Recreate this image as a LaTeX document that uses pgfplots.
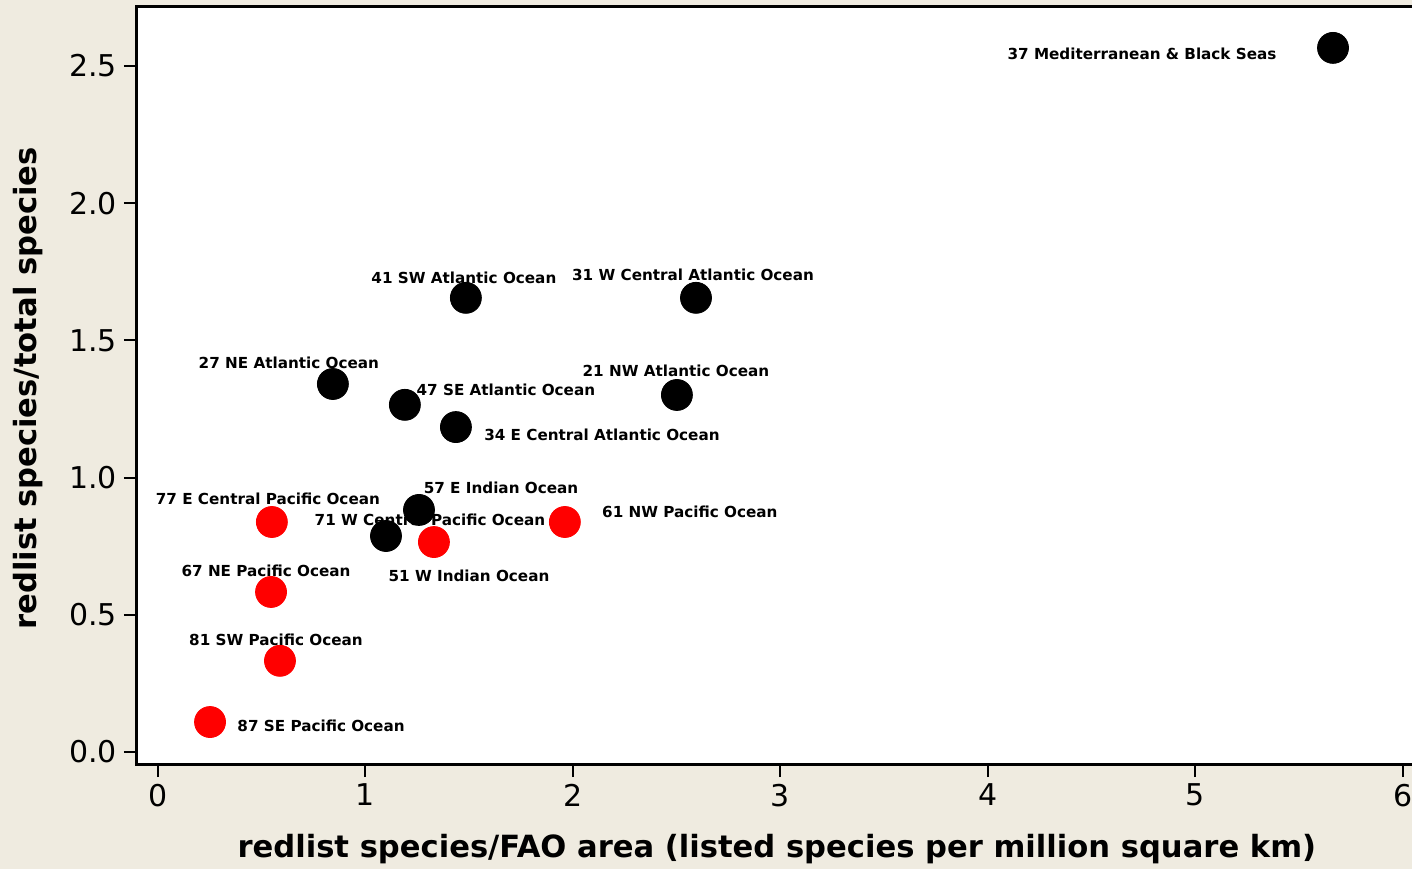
\documentclass[border=0pt]{standalone}
\usepackage{pgfplots}
\pgfplotsset{compat=1.18}
\usepackage{pgfplotstable}
\usepackage{fontspec}
\setmainfont{DejaVu Sans}
\definecolor{bg}{RGB}{239,235,224}
\definecolor{ptred}{RGB}{255,0,0}

% FAO areas: x = redlist species per million km^2, y = redlist/total species (%)
% dx, dy = label offset from the point, in pt
\pgfplotstableread{
x y dx dy label
5.663 2.566 -95.5 -3 {37 Mediterranean \& Black Seas}
1.484 1.655 -1 10 {41 SW Atlantic Ocean}
2.593 1.655 -1.5 11.5 {31 W Central Atlantic Ocean}
0.843 1.341 -22 10.5 {27 NE Atlantic Ocean}
1.190 1.265 50.5 7.5 {47 SE Atlantic Ocean}
2.501 1.301 -0.5 12 {21 NW Atlantic Ocean}
1.436 1.184 73 -4 {34 E Central Atlantic Ocean}
1.258 0.882 41 11 {57 E Indian Ocean}
1.099 0.787 41.5 -20 {51 W Indian Ocean}
}\atlind

\pgfplotstableread{
x y dx dy label
1.330 0.765 -2 11 {71 W Central Pacific Ocean}
1.961 0.838 62.5 5 {61 NW Pacific Ocean}
0.549 0.838 -2 11.5 {77 E Central Pacific Ocean}
0.545 0.583 -2.5 10.5 {67 NE Pacific Ocean}
0.588 0.332 -2 10.5 {81 SW Pacific Ocean}
0.251 0.109 55.5 -2 {87 SE Pacific Ocean}
}\pacific

\pgfplotsset{
  ptlabels/.style={
    draw=none, mark=none,
    point meta=explicit symbolic,
    visualization depends on={\thisrow{dx} \as \dx},
    visualization depends on={\thisrow{dy} \as \dy},
    nodes near coords,
    every node near coord/.style={anchor=center, xshift=\dx pt, yshift=\dy pt,
      font=\bfseries\fontsize{7.6}{9}\selectfont, text=black, inner sep=0pt},
  },
}

\begin{document}
\begin{tikzpicture}
\path[use as bounding box, fill=bg] (-68.5pt,-52.5pt) rectangle (637.5pt,382pt);
\begin{axis}[
  at={(0,0)}, anchor=south west,
  scale only axis, width=645pt, height=378.5pt,
  xmin=-0.101, xmax=6.116, ymin=-0.044, ymax=2.715,
  axis background/.style={fill=white},
  axis line style={line width=1.5pt},
  clip=false,
  xtick={0,1,2,3,4,5,6},
  ytick={0,0.5,1,1.5,2,2.5},
  tick align=outside, tick pos=left,
  major tick length=6.5pt,
  every tick/.style={black, line width=1pt},
  tick label style={font=\fontsize{15}{18}\selectfont},
  xlabel={redlist species/FAO area (listed species per million square km)},
  ylabel={redlist species/total species},
  label style={font=\bfseries\fontsize{15.3}{18}\selectfont},
  xlabel style={at={(axis description cs:0.496,-0.1123)}, anchor=center},
  ylabel style={at={(axis description cs:-0.0845,0.496)}, anchor=center},
  /pgf/number format/assume math mode=true,
  yticklabel style={/pgf/number format/.cd, fixed, fixed zerofill, precision=1},
]
\addplot[ptlabels] table[x=x, y=y, meta=label] {\atlind};
\addplot[ptlabels] table[x=x, y=y, meta=label] {\pacific};
\addplot[only marks, mark=*, mark size=7.75pt, black, mark options={fill=black, draw=none}]
  table[x=x, y=y] {\atlind};
\addplot[only marks, mark=*, mark size=7.75pt, ptred, mark options={fill=ptred, draw=none}]
  table[x=x, y=y] {\pacific};
\end{axis}
\end{tikzpicture}
\end{document}
